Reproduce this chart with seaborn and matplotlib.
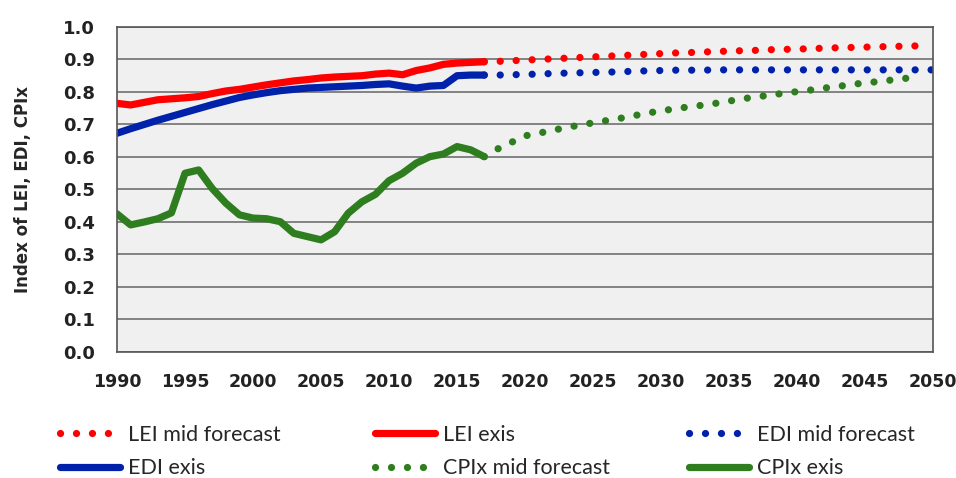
import numpy as np
import pandas as pd
import matplotlib
matplotlib.use('Agg')
import matplotlib.pyplot as plt
import seaborn as sns

# historical series 1990-2017
years_hist = list(range(1990, 2018))
lei_exis = [0.765, 0.760, 0.768, 0.776, 0.779, 0.782, 0.786, 0.795, 0.803, 0.808,
            0.815, 0.822, 0.828, 0.834, 0.838, 0.843, 0.846, 0.848, 0.850, 0.855,
            0.858, 0.853, 0.866, 0.874, 0.885, 0.889, 0.891, 0.893]
edi_exis = [0.673, 0.687, 0.700, 0.713, 0.725, 0.737, 0.749, 0.761, 0.772, 0.783,
            0.791, 0.798, 0.804, 0.808, 0.812, 0.814, 0.816, 0.818, 0.820, 0.823,
            0.825, 0.818, 0.812, 0.818, 0.820, 0.850, 0.852, 0.852]
cpix_exis = [0.425, 0.391, 0.400, 0.410, 0.428, 0.550, 0.560, 0.503, 0.458, 0.422,
             0.412, 0.410, 0.401, 0.365, 0.355, 0.345, 0.370, 0.427, 0.462, 0.485,
             0.527, 0.550, 0.581, 0.601, 0.609, 0.632, 0.622, 0.601]

# mid forecasts 2017-2050
years_fc = list(range(2017, 2051))
lei_fc = [0.893, 0.894, 0.896, 0.898, 0.900, 0.902, 0.904, 0.906, 0.908, 0.910,
          0.912, 0.914, 0.916, 0.918, 0.920, 0.921, 0.923, 0.924, 0.926, 0.927,
          0.928, 0.930, 0.931, 0.932, 0.933, 0.935, 0.936, 0.937, 0.938, 0.939,
          0.940, 0.941, 0.942, 0.943]
edi_fc = [0.852, 0.852, 0.853, 0.854, 0.855, 0.857, 0.858, 0.859, 0.860, 0.861,
          0.862, 0.864, 0.865, 0.866, 0.867, 0.867, 0.867, 0.868, 0.868, 0.868,
          0.868, 0.868, 0.868, 0.868, 0.868, 0.868, 0.868, 0.868, 0.868, 0.868,
          0.868, 0.868, 0.868, 0.868]
cpix_fc = [0.601, 0.625, 0.645, 0.665, 0.673, 0.682, 0.690, 0.698, 0.705, 0.712,
           0.719, 0.727, 0.735, 0.742, 0.748, 0.754, 0.759, 0.765, 0.772, 0.779,
           0.785, 0.790, 0.796, 0.801, 0.806, 0.812, 0.817, 0.823, 0.828, 0.832,
           0.837, 0.842, 0.847, 0.852]

red, blue, green = '#ff0000', '#0022aa', '#2e7d1e'

sns.set_style('white')
plt.rcParams['font.family'] = ['DejaVu Sans']

fig = plt.figure(figsize=(9.56, 4.78), dpi=100)
ax = fig.add_axes([0.1224, 0.2636, 0.8536, 0.68])
ax.set_facecolor('#f0f0f0')

dot = (0, (0.01, 2.2))

hist = pd.DataFrame({'year': years_hist, 'LEI': lei_exis, 'EDI': edi_exis, 'CPIx': cpix_exis})
fc = pd.DataFrame({'year': years_fc, 'LEI': lei_fc, 'EDI': edi_fc, 'CPIx': cpix_fc})

h = {}
for col, c in [('LEI', red), ('EDI', blue), ('CPIx', green)]:
    sns.lineplot(data=hist, x='year', y=col, color=c, linewidth=5.2, ax=ax,
                 solid_capstyle='round', solid_joinstyle='round')
    h[col + ' exis'] = ax.lines[-1]
    last = 2050 if col == 'EDI' else 2049
    sns.lineplot(data=fc[fc['year'] <= last], x='year', y=col,
                 color=c, linewidth=5.2, ax=ax)
    ln = ax.lines[-1]
    ln.set_linestyle(dot)
    ln.set_dash_capstyle('round')
    h[col + ' mid forecast'] = ln

ax.set_xlim(1990, 2050)
ax.set_ylim(0, 1.0)
ax.set_xticks(range(1990, 2051, 5))
ax.set_yticks(np.arange(0, 1.01, 0.1))
ax.yaxis.set_major_formatter(matplotlib.ticker.FormatStrFormatter('%.1f'))
ax.grid(axis='y', color='#7a7a7a', linewidth=1.3)
ax.set_axisbelow(True)
for s in ax.spines.values():
    s.set_color('#555555')
    s.set_linewidth(1.2)
ax.tick_params(axis='both', direction='out', length=7, width=1.2, color='#555555',
               labelsize=12.5)
ax.tick_params(axis='y', pad=9, labelsize=13)
ax.tick_params(axis='x', pad=8)
for lab in ax.get_xticklabels() + ax.get_yticklabels():
    lab.set_fontweight('bold')
    lab.set_color('#222222')
ax.set_xlabel('')
ax.set_ylabel('Index of LEI, EDI, CPIx', fontsize=12, fontweight='bold', labelpad=22)

# legend: three columns placed under the plot
cols = [(['LEI mid forecast', 'EDI exis'], 60),
        (['LEI exis', 'CPIx mid forecast'], 375),
        (['EDI mid forecast', 'CPIx exis'], 689)]
for names, x0 in cols:
    fig.legend([h[k] for k in names], names, loc='upper left',
               bbox_to_anchor=(x0 / 956, 1 - 425 / 478), frameon=False,
               handlelength=2.8, handletextpad=0.35, labelspacing=0.62,
               borderaxespad=0, borderpad=0,
               prop={'family': ['Lato', 'DejaVu Sans'], 'size': 15.5})

fig.savefig('out.png', dpi=100)
